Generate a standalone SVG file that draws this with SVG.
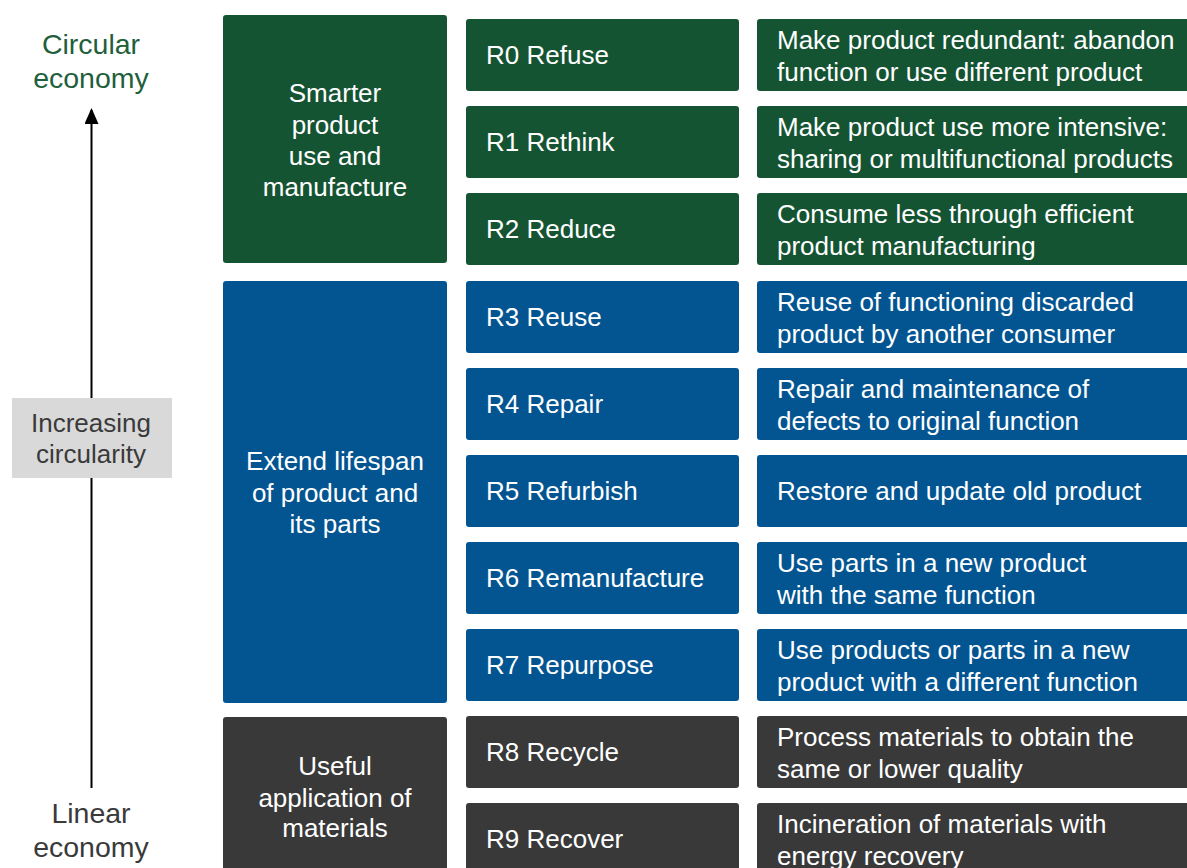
<svg xmlns="http://www.w3.org/2000/svg" width="1187" height="868" viewBox="0 0 1187 868">
<defs>
<style>
text{font-family:"Liberation Sans",Arial,sans-serif;font-size:26px}
.g{fill:#155433}.b{fill:#035591}.d{fill:#393939}
.w{fill:#ffffff}
.c{text-anchor:middle}
.big{font-size:28.5px}
.ax{fill:#1f5f3c}
.gr{fill:#3a3a3a}
</style>
<marker id="ah" markerWidth="8" markerHeight="7" refX="7" refY="3.5" orient="auto" markerUnits="strokeWidth">
<path d="M0,0 L8,3.5 L0,7 Z" fill="#000"/>
</marker>
</defs>
<rect width="1187" height="868" fill="#fff"/>

<g id="connectors">
<line x1="91.5" y1="788" x2="91.5" y2="110" stroke="#000" stroke-width="2" marker-end="url(#ah)"/>
</g>

<g id="axis-top"><text class="c ax big" x="91" y="54">Circular</text><text class="c ax big" x="91" y="88">economy</text></g>
<g id="axis-mid"><rect x="12" y="398" width="160" height="80" fill="#d9d9d9"/><text class="c gr" x="91" y="432">Increasing</text><text class="c gr" x="91" y="463">circularity</text></g>
<g id="axis-bottom"><text class="c gr big" x="91" y="823">Linear</text><text class="c gr big" x="91" y="857">economy</text></g>

<g id="cat-smarter"><rect class="g" x="223" y="15" width="224" height="248" rx="3"/>
<text class="c w" x="335" y="102">Smarter</text><text class="c w" x="335" y="134">product</text><text class="c w" x="335" y="165">use and</text><text class="c w" x="335" y="196">manufacture</text></g>
<g id="cat-extend"><rect class="b" x="223" y="281" width="224" height="422" rx="3"/>
<text class="c w" x="335" y="470">Extend lifespan</text><text class="c w" x="335" y="502">of product and</text><text class="c w" x="335" y="533">its parts</text></g>
<g id="cat-useful"><rect class="d" x="223" y="717" width="224" height="160" rx="3"/>
<text class="c w" x="335" y="775">Useful</text><text class="c w" x="335" y="807">application of</text><text class="c w" x="335" y="837">materials</text></g>

<g id="r0"><rect class="g" x="466" y="19" width="273" height="72" rx="3"/><text class="w" x="486" y="64">R0 Refuse</text></g>
<g id="r1"><rect class="g" x="466" y="106" width="273" height="72" rx="3"/><text class="w" x="486" y="151">R1 Rethink</text></g>
<g id="r2"><rect class="g" x="466" y="193" width="273" height="72" rx="3"/><text class="w" x="486" y="238">R2 Reduce</text></g>
<g id="r3"><rect class="b" x="466" y="281" width="273" height="72" rx="3"/><text class="w" x="486" y="326">R3 Reuse</text></g>
<g id="r4"><rect class="b" x="466" y="368" width="273" height="72" rx="3"/><text class="w" x="486" y="413">R4 Repair</text></g>
<g id="r5"><rect class="b" x="466" y="455" width="273" height="72" rx="3"/><text class="w" x="486" y="500">R5 Refurbish</text></g>
<g id="r6"><rect class="b" x="466" y="542" width="273" height="72" rx="3"/><text class="w" x="486" y="587">R6 Remanufacture</text></g>
<g id="r7"><rect class="b" x="466" y="629" width="273" height="72" rx="3"/><text class="w" x="486" y="674">R7 Repurpose</text></g>
<g id="r8"><rect class="d" x="466" y="716" width="273" height="72" rx="3"/><text class="w" x="486" y="761">R8 Recycle</text></g>
<g id="r9"><rect class="d" x="466" y="803" width="273" height="72" rx="3"/><text class="w" x="486" y="848">R9 Recover</text></g>

<g id="d0"><rect class="g" x="757" y="19" width="440" height="72" rx="3"/><text class="w" x="777" y="49">Make product redundant: abandon</text><text class="w" x="777" y="81">function or use different product</text></g>
<g id="d1"><rect class="g" x="757" y="106" width="440" height="72" rx="3"/><text class="w" x="777" y="136">Make product use more intensive:</text><text class="w" x="777" y="168">sharing or multifunctional products</text></g>
<g id="d2"><rect class="g" x="757" y="193" width="440" height="72" rx="3"/><text class="w" x="777" y="223">Consume less through efficient</text><text class="w" x="777" y="255">product manufacturing</text></g>
<g id="d3"><rect class="b" x="757" y="281" width="440" height="72" rx="3"/><text class="w" x="777" y="311">Reuse of functioning discarded</text><text class="w" x="777" y="343">product by another consumer</text></g>
<g id="d4"><rect class="b" x="757" y="368" width="440" height="72" rx="3"/><text class="w" x="777" y="398">Repair and maintenance of</text><text class="w" x="777" y="430">defects to original function</text></g>
<g id="d5"><rect class="b" x="757" y="455" width="440" height="72" rx="3"/><text class="w" x="777" y="500">Restore and update old product</text></g>
<g id="d6"><rect class="b" x="757" y="542" width="440" height="72" rx="3"/><text class="w" x="777" y="572">Use parts in a new product</text><text class="w" x="777" y="604">with the same function</text></g>
<g id="d7"><rect class="b" x="757" y="629" width="440" height="72" rx="3"/><text class="w" x="777" y="659">Use products or parts in a new</text><text class="w" x="777" y="691">product with a different function</text></g>
<g id="d8"><rect class="d" x="757" y="716" width="440" height="72" rx="3"/><text class="w" x="777" y="746">Process materials to obtain the</text><text class="w" x="777" y="778">same or lower quality</text></g>
<g id="d9"><rect class="d" x="757" y="803" width="440" height="72" rx="3"/><text class="w" x="777" y="833">Incineration of materials with</text><text class="w" x="777" y="865">energy recovery</text></g>
</svg>
